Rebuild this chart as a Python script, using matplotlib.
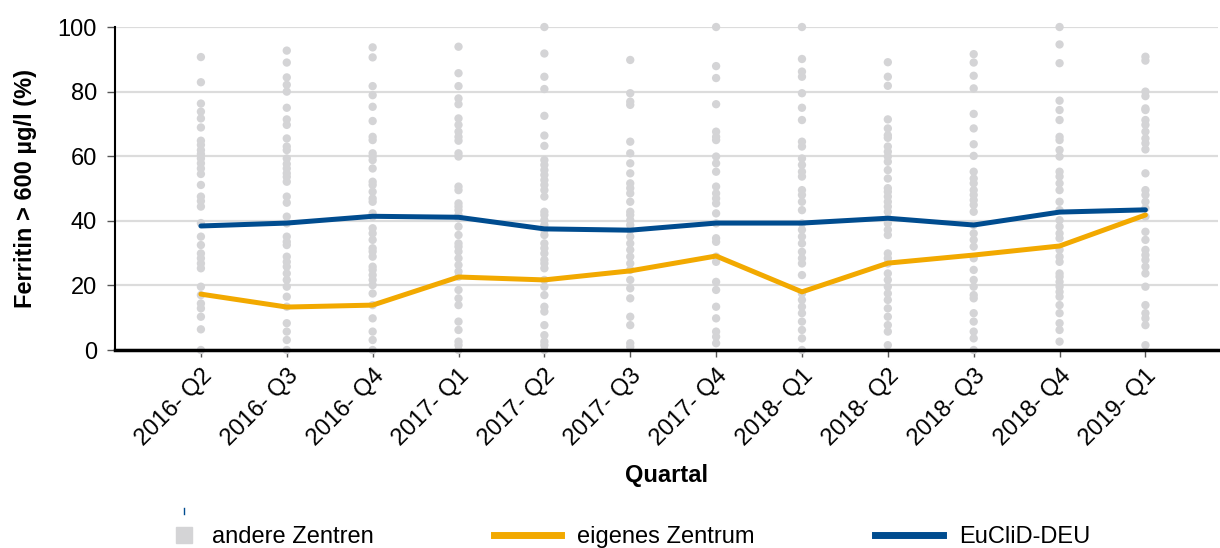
import matplotlib
matplotlib.use("Agg")
import matplotlib.pyplot as plt
from matplotlib.lines import Line2D
from matplotlib.legend_handler import HandlerLine2D

plt.rcParams['font.family'] = ['Liberation Sans', 'DejaVu Sans']

# Quartale
quartale = ['2016- Q2', '2016- Q3', '2016- Q4', '2017- Q1', '2017- Q2', '2017- Q3',
            '2017- Q4', '2018- Q1', '2018- Q2', '2018- Q3', '2018- Q4', '2019- Q1']

# EuCliD-DEU (blau) und eigenes Zentrum (orange)
euclid = [38.4, 39.3, 41.4, 41.1, 37.5, 37.1, 39.3, 39.3, 40.8, 38.7, 42.7, 43.4]
eigenes = [17.3, 13.3, 13.9, 22.6, 21.7, 24.5, 29.1, 18.0, 26.9, 29.4, 32.2, 41.8]

# andere Zentren (graue Punkte), je Quartal
andere_q1 = [90.7, 82.9, 76.3, 73.8, 71.7, 68.9, 64.8, 63.5, 61.9, 60.7, 59.3, 57.8, 56.2,
             54.5, 51.1, 47.5, 46.1, 44.4, 39.3, 35.1, 32.5, 29.9, 28.4, 26.8, 25.3, 19.6,
             17.0, 14.4, 12.9, 10.3, 6.4, 0.0]
andere_q2 = [92.7, 89.0, 84.4, 82.1, 80.0, 75.0, 71.4, 69.7, 65.5, 63.0, 61.9, 59.3, 57.6,
             56.2, 54.7, 53.6, 52.1, 47.5, 45.6, 41.3, 39.2, 35.1, 33.5, 32.5, 28.9, 27.3,
             25.8, 23.7, 21.7, 19.6, 16.5, 13.4, 8.3, 5.7, 3.1, 0.0]
andere_q3 = [93.7, 90.6, 81.7, 78.9, 75.3, 70.9, 66.0, 65.0, 60.9, 59.9, 58.8, 56.2, 52.1,
             51.1, 49.0, 46.9, 45.9, 42.3, 41.3, 37.7, 36.1, 34.1, 31.5, 30.5, 28.9, 25.8,
             24.8, 23.2, 21.7, 20.1, 17.5, 13.9, 9.8, 5.7, 3.1, 0.0]
andere_q4 = [93.9, 85.7, 81.7, 77.9, 76.1, 71.7, 69.7, 67.6, 66.0, 64.8, 60.9, 59.9, 50.6,
             49.5, 45.4, 44.4, 43.3, 41.8, 40.8, 38.2, 35.6, 33.0, 32.0, 30.5, 28.4, 26.3,
             24.3, 22.7, 18.6, 16.0, 13.9, 8.8, 6.2, 2.6, 1.5, 0.0]
andere_q5 = [100.0, 91.8, 84.6, 80.8, 72.5, 66.4, 63.2, 58.8, 57.3, 55.7, 54.2, 52.6, 51.1,
             49.5, 47.5, 42.8, 41.8, 40.2, 38.7, 37.1, 35.6, 33.0, 31.5, 29.9, 27.9, 26.8,
             25.3, 21.7, 19.6, 17.0, 13.4, 11.9, 7.7, 4.6, 2.6, 1.5, 0.0]
andere_q6 = [89.8, 79.5, 76.9, 75.9, 64.5, 60.9, 57.8, 54.7, 51.6, 50.1, 48.5, 45.9, 42.8,
             41.8, 40.2, 38.7, 37.1, 35.1, 33.0, 31.0, 28.9, 26.8, 24.8, 21.7, 19.1, 16.0,
             10.3, 7.7, 2.1, 1.0]
andere_q7 = [100.0, 87.9, 84.2, 76.1, 67.6, 66.0, 65.0, 59.9, 57.8, 55.2, 50.6, 48.5, 46.9,
             45.4, 42.3, 39.2, 34.6, 33.5, 28.9, 27.3, 21.1, 18.6, 13.4, 9.8, 5.7, 4.1, 2.1]
andere_q8 = [100.0, 90.1, 86.2, 84.6, 79.5, 75.0, 71.2, 64.5, 63.0, 59.3, 57.3, 55.2, 53.7,
             49.5, 48.0, 45.9, 43.3, 39.2, 37.2, 35.1, 33.0, 30.4, 28.4, 26.8, 23.2, 17.5,
             15.5, 13.4, 11.4, 8.8, 6.2, 3.6, 0.0]
andere_q9 = [89.1, 84.6, 81.8, 71.4, 68.6, 66.5, 65.7, 63.0, 61.4, 59.9, 58.3, 55.7, 53.1,
             50.1, 49.0, 47.5, 45.9, 44.4, 42.8, 40.8, 39.2, 37.2, 35.6, 29.9, 28.4, 26.8,
             23.7, 21.7, 19.6, 17.5, 15.5, 12.9, 10.3, 7.7, 5.7, 1.5]
andere_q10 = [91.6, 89.0, 84.9, 81.0, 73.1, 68.6, 63.7, 60.1, 55.2, 53.1, 51.6, 49.5, 48.0,
              46.4, 44.9, 42.8, 38.7, 36.1, 34.1, 32.0, 28.4, 24.8, 21.7, 19.6, 17.0, 16.0,
              11.4, 8.8, 5.7, 3.6, 0.0]
andere_q11 = [100.0, 94.6, 88.8, 77.2, 74.3, 71.2, 66.0, 65.0, 61.9, 59.9, 55.2, 53.7, 51.6,
              49.5, 45.9, 43.3, 40.2, 38.2, 36.1, 34.6, 31.0, 28.9, 27.3, 23.7, 22.7, 21.1,
              19.6, 18.0, 16.5, 13.9, 11.4, 8.3, 6.2, 2.6]
andere_q12 = [90.8, 89.6, 80.0, 78.6, 74.8, 74.3, 71.2, 69.7, 67.6, 65.5, 64.0, 62.1, 54.7,
              49.5, 48.0, 45.9, 43.9, 41.3, 36.6, 34.1, 31.0, 29.4, 27.9, 25.8, 23.7, 19.6,
              13.9, 11.4, 9.8, 7.7, 1.5]
andere = [andere_q1, andere_q2, andere_q3, andere_q4, andere_q5, andere_q6,
          andere_q7, andere_q8, andere_q9, andere_q10, andere_q11, andere_q12]

grau = '#d4d4d6'
orange = '#f2a900'
blau = '#004c8f'


class MarkerRechts(HandlerLine2D):
    # Marker nicht mittig, sondern naeher am Text (Mitte der xdata = Markerposition)
    def get_xdata(self, legend, xdescent, ydescent, width, height, fontsize):
        return ([-xdescent + 0.64 * width, -xdescent + width],
                [-xdescent + 0.82 * width])


fig = plt.figure(figsize=(12.2, 5.48), dpi=100)
ax = fig.add_axes([0.0943, 0.3613, 0.9037, 0.5894])

x = list(range(len(quartale)))

# graue Punkte
for i, werte in enumerate(andere):
    ax.scatter([i] * len(werte), werte, s=36, color=grau, edgecolors='none', zorder=2,
               clip_on=False)

ax.plot(x, eigenes, color=orange, lw=3.6, zorder=3, solid_capstyle='round')
ax.plot(x, euclid, color=blau, lw=3.6, zorder=4, solid_capstyle='round')

ax.set_xlim(-1, 11.84)
ax.set_ylim(0, 100)
ax.set_yticks([0, 20, 40, 60, 80, 100])
ax.set_xticks(x)
ax.set_xticklabels(quartale, rotation=45, ha='right', rotation_mode='anchor', fontsize=17)
ax.tick_params(axis='y', labelsize=17, length=6, width=1, color='#555555', pad=7)
ax.tick_params(axis='x', length=5, width=1, color='#555555', pad=6)

ax.grid(axis='y', color='#dcdcdc', lw=1.6, zorder=0)
ax.set_axisbelow(True)
for s in ['top', 'right']:
    ax.spines[s].set_visible(False)
ax.spines['left'].set_linewidth(1.5)
ax.spines['bottom'].set_linewidth(2.5)
ax.spines['bottom'].set_zorder(5)

ax.set_ylabel('Ferritin > 600 µg/l (%)', fontsize=17, fontweight='bold', labelpad=15)
ax.set_xlabel('Quartal', fontsize=17, fontweight='bold', labelpad=10)

# Legende
punkt = Line2D([], [], color=grau, marker='s', markersize=11.5, lw=0)
handles = [
    punkt,
    Line2D([], [], color=orange, lw=5),
    Line2D([], [], color=blau, lw=5),
]
labels = ['andere Zentren', 'eigenes Zentrum', 'EuCliD-DEU']
fig.legend(handles, labels, loc='center left', bbox_to_anchor=(0.088, 0.02), ncol=3,
           frameon=False, fontsize=17, handlelength=2.85, handletextpad=0.68,
           columnspacing=5.1, handler_map={punkt: MarkerRechts()})

# kleiner blauer Strich oberhalb der Legende
fig.add_artist(Line2D([0.151, 0.151], [0.062, 0.073], color=blau, lw=1))

fig.savefig('out.png', dpi=100)
